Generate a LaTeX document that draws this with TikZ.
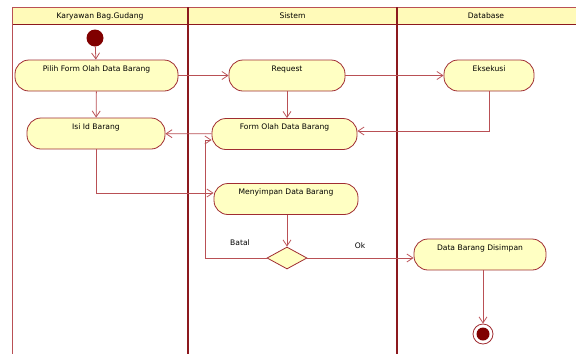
\documentclass[tikz,border=0pt]{standalone}
\usepackage{fontspec}
\setmainfont{DejaVu Sans}
\definecolor{laneline}{RGB}{140,25,30}
\definecolor{flowline}{RGB}{185,80,85}
\definecolor{nodeline}{RGB}{160,45,50}
\definecolor{nodefill}{RGB}{255,255,195}
\definecolor{headfill}{RGB}{255,250,185}
\definecolor{dotred}{RGB}{128,0,0}
\usetikzlibrary{arrows.meta,positioning,shapes.geometric}

\begin{document}
\begin{tikzpicture}[x=1pt,y=-1pt,
        every node/.style={font=\fontsize{7.6}{9}\selectfont},
        action/.style={draw=nodeline,fill=nodefill,thick,rounded corners=14pt,
                       minimum height=31pt,inner ysep=4.5pt,text height=6.5pt,text depth=15pt},
        flow/.style={draw=flowline,thick,-{Straight Barb[length=6pt,width=8pt]}},
        lane/.style={draw=laneline,line width=1.4pt}]
        \useasboundingbox (0,0) rectangle (576,354);
        % swimlanes
        \fill[headfill] (12,7) rectangle (576,24);
        \draw[flowline,thick] (12,7) -- (576,7);
        \draw[laneline,thick] (12,24) -- (576,24);
        \draw[flowline,thick] (12,7) -- (12,354);
        \draw[lane] (188,7) -- (188,354);
        \draw[lane] (397,7) -- (397,354);
        \node (h1) at (100,16) {Karyawan Bag.Gudang};
        \node (h2) at (292.5,16) {Sistem};
        \node (h3) at (486,16) {Database};

        \node[circle,fill=dotred,minimum size=17pt,inner sep=0pt] (start) at (95,38) {};
        \node[action,minimum width=163pt] (pilih) at (96.5,75.5) {Pilih Form Olah Data Barang};
        \node[action,minimum width=138pt] (isi) at (96,133.5) {Isi Id Barang};
        \node[action,minimum width=116pt] (req) at (287,75.5) {Request};
        \node[action,minimum width=145pt] (form) at (284.5,134) {Form Olah Data Barang};
        \node[action,minimum width=90pt] (eks) at (489,75.5) {Eksekusi};
        \node[action,minimum width=144pt] (simpan) at (286,199) {Menyimpan Data Barang};
        \node[diamond,draw=nodeline,fill=nodefill,thick,minimum width=40pt,
              minimum height=22pt,inner sep=0pt] (dec) at (287,258) {};
        \node[action,minimum width=132pt] (disimpan) at (480,254.5) {Data Barang Disimpan};
        \node[circle,draw=nodeline,thick,fill=white,minimum size=20pt,inner sep=0pt] (end) at (483,334) {};
        \fill[dotred] (end.center) circle (6.5pt);
        \coordinate (back) at (205,258);
        \node (batal) at (240,243) {Batal};
        \node (ok) at (360,246) {Ok};

        \draw[flow] (start) -- (pilih);
        \draw[flow] (pilih) -- (isi);
        \draw[flow] (pilih) -- (req);
        \draw[flow] (req) -- (eks);
        \draw[flow] (req.south) -- (req.south |- form.north);
        \draw[flow] (eks.south) |- ([yshift=3pt]form.east);
        \draw[flow] (form) -- (isi);
        \draw[flow] (isi.south) |- ([yshift=6pt]simpan.west);
        \draw[flow] (simpan.south -| dec.north) -- (dec.north);
        \draw[flow] (dec.west) -- (back) |- ([yshift=-6pt]form.west);
        \draw[flow] (dec.east) -- (dec.east -| disimpan.west);
        \draw[flow] (disimpan.south -| end.north) -- (end.north);
      \end{tikzpicture}
\end{document}
